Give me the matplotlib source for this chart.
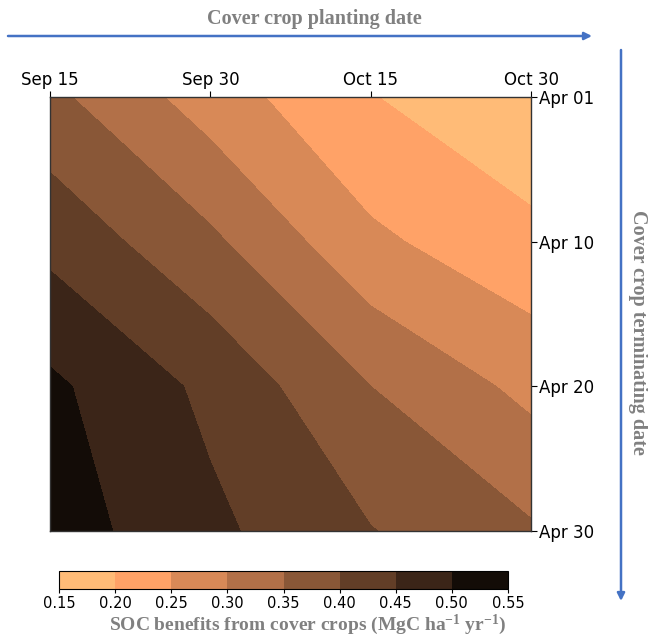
import numpy as np
import matplotlib
matplotlib.use('Agg')
import matplotlib.pyplot as plt

plt.rcParams['mathtext.fontset'] = 'custom'
plt.rcParams['mathtext.rm'] = 'Liberation Serif:bold'
plt.rcParams['mathtext.default'] = 'rm'

planting = ['Sep 15', 'Sep 30', 'Oct 15', 'Oct 30']
terminating = ['Apr 01', 'Apr 10', 'Apr 20', 'Apr 30']
# rows: terminating date, cols: planting date
soc = np.array([
    [0.362, 0.275, 0.202, 0.160],
    [0.435, 0.360, 0.260, 0.213],
    [0.510, 0.438, 0.350, 0.286],
    [0.525, 0.461, 0.402, 0.356],
])
levels = [0.15, 0.20, 0.25, 0.30, 0.35, 0.40, 0.45, 0.50, 0.55]

W, H = 648, 637
fig = plt.figure(figsize=(W / 100, H / 100), dpi=100)

def fx(px):
    return px / W

def fy(py):
    return 1 - py / H

ax = fig.add_axes([fx(50), fy(531), fx(531) - fx(50), fy(97) - fy(531)])
xs = np.arange(len(planting))
ys = np.arange(len(terminating))
cs = ax.contourf(xs, ys, soc, levels=levels, cmap='copper_r')
ax.set_xlim(0, 3)
ax.set_ylim(3, 0)
ax.set_xticks(xs)
ax.set_xticklabels(planting)
ax.set_yticks(ys)
ax.set_yticklabels(terminating)
ax.xaxis.tick_top()
ax.yaxis.tick_right()
ax.tick_params(labelsize=12, length=4, width=0.8, pad=2)
for s in ax.spines.values():
    s.set_linewidth(1.0)
    s.set_color('#333333')

cax = fig.add_axes([fx(59), fy(589), fx(508) - fx(59), fy(571) - fy(589)])
cb = fig.colorbar(cs, cax=cax, orientation='horizontal')
cb.set_ticks(levels)
cb.set_ticklabels([f'{v:.2f}' for v in levels])
cb.ax.tick_params(labelsize=10.5, length=3, pad=2)
cb.outline.set_linewidth(0.8)

serif = dict(family='Liberation Serif', fontweight='bold', color='#808080')
fig.text(fx(308), fy(625), 'SOC benefits from cover crops (MgC ha$^{-1}$ yr$^{-1}$)',
         ha='center', va='center', fontsize=14, **serif)

blue = '#4472C4'
fig.text(fx(314), fy(19), 'Cover crop planting date', ha='center', va='center',
         fontsize=14.5, **serif)
ax.annotate('', xy=(fx(592), fy(36)), xytext=(fx(8), fy(36)),
            xycoords='figure fraction', textcoords='figure fraction',
            arrowprops=dict(arrowstyle='-|>', color=blue, lw=1.8,
                            mutation_scale=11, shrinkA=0, shrinkB=0),
            annotation_clip=False)
ax.annotate('', xy=(fx(621), fy(601)), xytext=(fx(621), fy(50)),
            xycoords='figure fraction', textcoords='figure fraction',
            arrowprops=dict(arrowstyle='-|>', color=blue, lw=1.8,
                            mutation_scale=11, shrinkA=0, shrinkB=0),
            annotation_clip=False)
fig.text(fx(638), fy(332), 'Cover crop terminating date', ha='center', va='center',
         rotation=270, fontsize=14.5, **serif)

fig.savefig('out.png', dpi=100)
